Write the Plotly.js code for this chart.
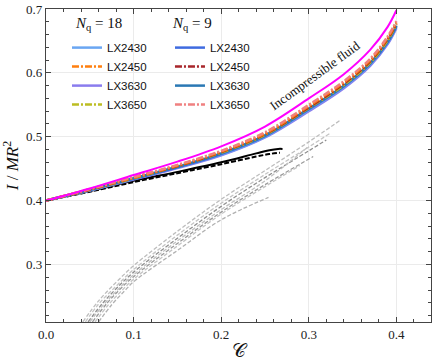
<!DOCTYPE html>
<html>
<head>
<meta charset="utf-8">
<script src="https://cdn.plot.ly/plotly-3.0.1.min.js"></script>
<style>
  html, body { margin: 0; padding: 0; background: #fff; }
  #chart { width: 436px; height: 361px; }
</style>
</head>
<body>
<div id="chart"></div>
<script>
// compactness grid shared by the EOS model curves
const modelX = [0, 0.05, 0.1, 0.15, 0.2, 0.25, 0.3, 0.34, 0.37, 0.39, 0.40];

// N_q = 18
const nq18_LX2430 = [0.400, 0.416, 0.434, 0.452, 0.472, 0.500, 0.542, 0.578, 0.613, 0.647, 0.672];
const nq18_LX2450 = [0.400, 0.418, 0.436, 0.455, 0.477, 0.505, 0.548, 0.585, 0.620, 0.655, 0.679];
const nq18_LX3630 = [0.400, 0.416, 0.433, 0.451, 0.471, 0.499, 0.540, 0.576, 0.611, 0.645, 0.670];
const nq18_LX3650 = [0.400, 0.417, 0.435, 0.454, 0.475, 0.503, 0.545, 0.581, 0.616, 0.651, 0.676];

// N_q = 9
const nq9_LX2430 = [0.400, 0.417, 0.434, 0.452, 0.473, 0.501, 0.543, 0.579, 0.614, 0.648, 0.673];
const nq9_LX2450 = [0.400, 0.417, 0.436, 0.454, 0.476, 0.504, 0.546, 0.583, 0.618, 0.653, 0.677];
const nq9_LX3630 = [0.400, 0.417, 0.435, 0.453, 0.474, 0.502, 0.544, 0.580, 0.615, 0.649, 0.674];
const nq9_LX3650 = [0.400, 0.418, 0.437, 0.456, 0.478, 0.507, 0.550, 0.587, 0.622, 0.657, 0.681];

// incompressible fluid
const incompX = [0, 0.05, 0.1, 0.15, 0.2, 0.25, 0.3, 0.34, 0.37, 0.39, 0.40];
const incompY = [0.400, 0.419, 0.440, 0.461, 0.485, 0.516, 0.560, 0.598, 0.636, 0.672, 0.698];

// black reference curves
const blackSolidX = [0, 0.05, 0.1, 0.15, 0.2, 0.24, 0.255, 0.265, 0.27];
const blackSolidY = [0.400, 0.415, 0.431, 0.445, 0.460, 0.474, 0.479, 0.481, 0.481];
const blackDashX = [0, 0.05, 0.1, 0.15, 0.2, 0.24, 0.255, 0.267];
const blackDashY = [0.400, 0.414, 0.429, 0.443, 0.457, 0.469, 0.473, 0.475];

// grey dashed curves
const grey1X = [0.042, 0.06, 0.08, 0.1, 0.15, 0.2, 0.25, 0.3, 0.335];
const grey1Y = [0.21, 0.243, 0.272, 0.298, 0.352, 0.402, 0.447, 0.492, 0.525];
const grey2X = [0.045, 0.06, 0.08, 0.1, 0.15, 0.2, 0.25, 0.3, 0.325];
const grey2Y = [0.21, 0.238, 0.266, 0.292, 0.346, 0.396, 0.441, 0.484, 0.506];
const grey3X = [0.048, 0.065, 0.08, 0.1, 0.15, 0.2, 0.25, 0.3, 0.32];
const grey3Y = [0.21, 0.240, 0.262, 0.288, 0.341, 0.391, 0.436, 0.478, 0.495];
const grey4X = [0.05, 0.065, 0.08, 0.1, 0.15, 0.2, 0.25, 0.299];
const grey4Y = [0.21, 0.236, 0.258, 0.284, 0.337, 0.386, 0.431, 0.484];
const grey5X = [0.053, 0.07, 0.085, 0.1, 0.15, 0.2, 0.25, 0.305];
const grey5Y = [0.21, 0.240, 0.262, 0.281, 0.333, 0.382, 0.425, 0.469];
const grey6X = [0.056, 0.07, 0.085, 0.1, 0.15, 0.2, 0.25, 0.29];
const grey6Y = [0.21, 0.235, 0.257, 0.277, 0.329, 0.379, 0.422, 0.455];
const grey7X = [0.06, 0.075, 0.09, 0.1, 0.15, 0.2, 0.254];
const grey7Y = [0.21, 0.237, 0.259, 0.273, 0.322, 0.370, 0.405];
const greyCurves = [
    [grey1X, grey1Y, '#bdbdbd'],
    [grey2X, grey2Y, '#c4c4c4'],
    [grey3X, grey3Y, '#8f8f8f'],
    [grey4X, grey4Y, '#c0c0c0'],
    [grey5X, grey5Y, '#9a9a9a'],
    [grey6X, grey6Y, '#c4c4c4'],
    [grey7X, grey7Y, '#b0b0b0']
];

const SERIF = 'Liberation Serif, DejaVu Serif, serif';
const SANS = 'Liberation Sans, Arial, sans-serif';

const traces = [];

greyCurves.forEach(([x, y, c]) => {
    traces.push({x, y, mode: 'lines', line: {color: c, width: 1.3, dash: '4px,2px', shape: 'spline'},
                 showlegend: false, hoverinfo: 'skip'});
});

traces.push({x: blackDashX, y: blackDashY, mode: 'lines', line: {color: '#000', width: 2, dash: '5px,2px', shape: 'spline'},
             showlegend: false, hoverinfo: 'skip'});
traces.push({x: blackSolidX, y: blackSolidY, mode: 'lines', line: {color: '#000', width: 2, shape: 'spline'},
             showlegend: false, hoverinfo: 'skip'});

function model(name, y, color, dashed, legend, rank) {
    return {
        x: modelX, y, name, mode: 'lines', legend, legendrank: rank,
        line: {color, width: 2.5, dash: dashed ? '7px,2px,2px,2px' : 'solid', shape: 'spline'},
        hoverinfo: 'skip'
    };
}

// lowest curves first so the top of the band stays visible
traces.push(model('LX3630', nq18_LX3630, '#8a7cee', false, 'legend', 3));
traces.push(model('LX2430', nq18_LX2430, '#6aa6f2', false, 'legend', 1));
traces.push(model('LX2430', nq9_LX2430, '#3f6be0', false, 'legend2', 1));
traces.push(model('LX3630', nq9_LX3630, '#2a78b4', false, 'legend2', 3));
traces.push(model('LX3650', nq18_LX3650, '#bcbd22', true, 'legend', 4));
traces.push(model('LX2450', nq9_LX2450, '#a8262b', true, 'legend2', 2));
traces.push(model('LX2450', nq18_LX2450, '#ff7f0e', true, 'legend', 2));
traces.push(model('LX3650', nq9_LX3650, '#f08080', true, 'legend2', 4));

traces.push({x: incompX, y: incompY, mode: 'lines', line: {color: '#ff00ff', width: 2, shape: 'spline'},
             showlegend: false, hoverinfo: 'skip'});

const axisCommon = {
    showline: true, mirror: 'allticks', linecolor: '#444', linewidth: 1.2,
    ticks: 'inside', ticklen: 5, tickcolor: '#444', tickwidth: 1,
    showgrid: true, gridcolor: '#ebebeb', gridwidth: 1, zeroline: false,
    tickfont: {family: SERIF, size: 13, color: '#222'}
};

const legendCommon = {
    yanchor: 'top', xanchor: 'left', bgcolor: 'rgba(0,0,0,0)', borderwidth: 0,
    font: {family: SANS, size: 11.5, color: '#111'},
    itemwidth: 30, traceorder: 'normal'
};

const layout = {
    width: 436, height: 361,
    margin: {l: 46, r: 5, t: 9, b: 39},
    paper_bgcolor: '#fff', plot_bgcolor: '#fff',
    xaxis: Object.assign({}, axisCommon, {
        range: [0, 0.4395], dtick: 0.1, tickformat: '.1f',
        minor: {ticks: 'inside', dtick: 0.02, ticklen: 3, tickcolor: '#444', showgrid: false},
        title: {text: '𝒞', font: {family: 'DejaVu Serif, serif', size: 19, color: '#111'}, standoff: 4}
    }),
    yaxis: Object.assign({}, axisCommon, {
        range: [0.21, 0.70], dtick: 0.1, tick0: 0, tickformat: '.1f',
        minor: {ticks: 'inside', dtick: 0.02, ticklen: 3, tickcolor: '#444', showgrid: false},
        title: {text: '<i>I</i> / <i>MR</i><sup>2</sup>', font: {family: SERIF, size: 17, color: '#111'}, standoff: 6}
    }),
    legend: Object.assign({}, legendCommon, {x: 0.0545, y: 0.923}),
    legend2: Object.assign({}, legendCommon, {x: 0.322, y: 0.923}),
    annotations: [
        {
            x: 0.307, y: 0.596, xref: 'x', yref: 'y', showarrow: false,
            text: 'Incompressible fluid', textangle: -36,
            font: {family: SERIF, size: 13, color: '#111'}
        },
        {
            x: 73, y: 24, xref: 'paper', yref: 'paper', showarrow: false,
            text: '<i>N</i><sub>q</sub> = 18', xanchor: 'left', yanchor: 'middle',
            font: {family: SERIF, size: 15, color: '#111'}
        },
        {
            x: 170, y: 24, xref: 'paper', yref: 'paper', showarrow: false,
            text: '<i>N</i><sub>q</sub> = 9', xanchor: 'left', yanchor: 'middle',
            font: {family: SERIF, size: 15, color: '#111'}
        }
    ]
};

// legend titles were given in pixels above; turn them into paper units
layout.annotations.slice(1).forEach(a => {
    a.x = (a.x - 46) / 385;
    a.y = (322 - a.y) / 313;
});

Plotly.newPlot('chart', traces, layout, {staticPlot: true, displayModeBar: false});
</script>
</body>
</html>
